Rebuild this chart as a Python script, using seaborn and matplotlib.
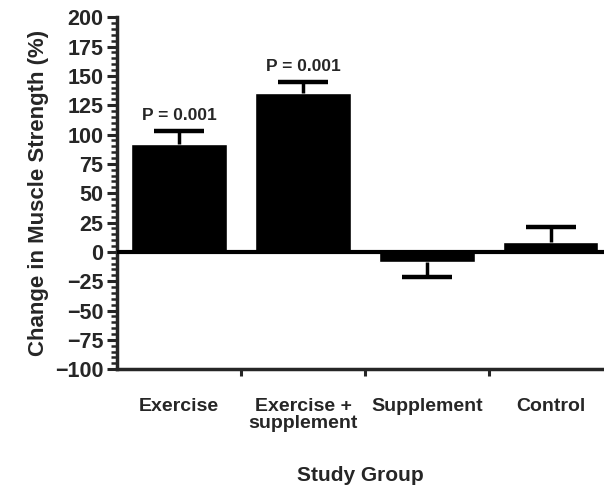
import numpy as np
import pandas as pd
import seaborn as sns
import matplotlib.pyplot as plt
from matplotlib.ticker import MultipleLocator, FixedLocator

# data
groups = ['Exercise', 'Exercise +\nsupplement', 'Supplement', 'Control']
change = [92, 135, -9, 8]
err = [11, 10, 12, 13]
p_labels = ['P = 0.001', 'P = 0.001', '', '']

df = pd.DataFrame({'group': groups, 'change': change})

sns.set_style('ticks')
plt.rcParams['font.family'] = ['Liberation Sans', 'DejaVu Sans']
plt.rcParams['font.weight'] = 'bold'

fig = plt.figure(figsize=(6.04, 4.91), dpi=100)
ax = fig.add_axes([0.194, 0.248, 0.806, 0.717])

sns.barplot(data=df, x='group', y='change', color='black', width=0.77,
            errorbar=None, ax=ax, zorder=3)

# one-sided error bars (away from zero), cap only at the far end
x = np.arange(len(groups))
vals = np.array(change)
e = np.array(err)
ends = vals + np.sign(vals) * e
ax.vlines(x, vals, ends, color='black', lw=2.5, zorder=4)
ax.hlines(ends, x - 0.2, x + 0.2, color='black', lw=3.2, zorder=4)

for xi, end, lab in zip(x, ends, p_labels):
    if lab:
        ax.text(xi, end + 7, lab, ha='center', va='bottom',
                fontsize=12.5, fontweight='bold')

ax.axhline(0, color='black', lw=3, zorder=5)

ax.set_ylim(-100, 200)
ax.set_xlim(-0.5, 3.43)
ax.yaxis.set_major_locator(MultipleLocator(25))
ax.yaxis.set_minor_locator(MultipleLocator(5))
ax.tick_params(axis='y', which='major', length=7, width=2.2, labelsize=15.5,
               direction='out', pad=3)
ax.tick_params(axis='y', which='minor', length=4, width=1.8, direction='out')
ax.set_yticklabels([f'{int(t)}'.replace('-', '\u2212') for t in ax.get_yticks()],
                   fontweight='bold')

ax.xaxis.set_minor_locator(FixedLocator([0.5, 1.5, 2.5]))
ax.tick_params(axis='x', which='major', length=0, labelsize=14, pad=21)
ax.tick_params(axis='x', which='minor', length=5, width=2.2, direction='out')
for lab in ax.get_xticklabels():
    lab.set_fontweight('bold')
    lab.set_verticalalignment('top')
    lab.set_linespacing(1.0)

ax.set_xlabel('Study Group', fontsize=15, fontweight='bold', labelpad=24)
ax.set_ylabel('Change in Muscle Strength (%)', fontsize=16, fontweight='bold',
              labelpad=4)

for side in ['top', 'right']:
    ax.spines[side].set_visible(False)
for side in ['left', 'bottom']:
    ax.spines[side].set_linewidth(2.5)

plt.savefig('out.png', dpi=100)
